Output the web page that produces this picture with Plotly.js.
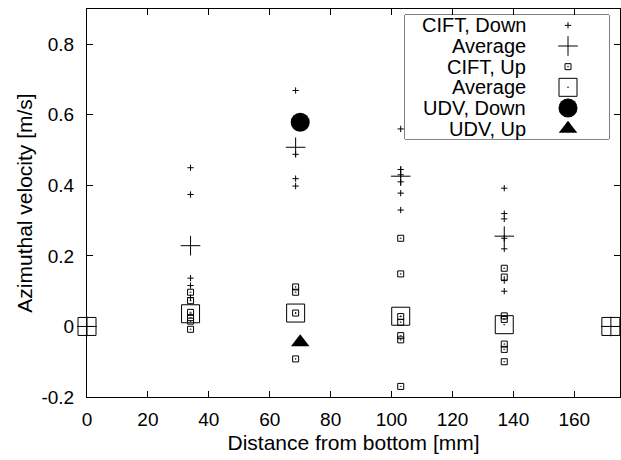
<!DOCTYPE html>
<html><head><meta charset="utf-8">
<script src="https://cdn.plot.ly/plotly-3.0.1.min.js"></script>
<style>body{margin:0;background:#fff}#chart{width:621px;height:460px}</style>
</head><body><div id="chart"></div>
<script>
// ---- data ----
const ciftDownX = [34,34,34,34,34, 68.5,68.5,68.5,68.5, 103,103,103,103,103,103, 137,137,137,137,137,137,137];
const ciftDownY = [0.450,0.374,0.137,0.116,0.082, 0.669,0.488,0.419,0.398, 0.560,0.445,0.430,0.410,0.378,0.330, 0.392,0.320,0.305,0.250,0.220,0.130,0.100];
const avgDownX = [0, 34, 68.5, 103, 137, 172];
const avgDownY = [0, 0.229, 0.508, 0.426, 0.256, 0];
const ciftUpX = [34,34,34,34,34,34, 68.5,68.5,68.5,68.5, 103,103,103,103,103,103,103, 137,137,137,137,137,137,137];
const ciftUpY = [0.097,0.073,0.040,0.025,0.015,-0.008, 0.112,0.097,0.038,-0.092, 0.250,0.149,0.028,0.012,-0.026,-0.038,-0.170, 0.165,0.140,0.030,0.020,-0.050,-0.065,-0.100];
const avgUpX = [0, 34, 68.5, 103, 137, 172];
const avgUpY = [0, 0.036, 0.038, 0.029, 0.005, 0];
const udvDownX = [70];
const udvDownY = [0.579];
const udvUpX = [70];
const udvUpY = [-0.045];
const legendLabels = ["CIFT, Down", "Average", "CIFT, Up", "Average", "UDV, Down", "UDV, Up"];
const xTickVals = [0, 20, 40, 60, 80, 100, 120, 140, 160];
const xTickText = ["0", "20", "40", "60", "80", "100", "120", "140", "160"];
const yTickVals = [-0.2, 0, 0.2, 0.4, 0.6, 0.8];
const yTickText = ["-0.2", "0", "0.2", "0.4", "0.6", "0.8"];

// ---- styles ----
const FONT = "Liberation Sans, Arial, Helvetica, sans-serif";
const styles = [
  {symbol: "cross-thin", size: 4.5, line: {color: "#000", width: 1}, color: "#000"},
  {symbol: "cross-thin", size: 14, line: {color: "#000", width: 1}, color: "#000"},
  {symbol: "square-open-dot", size: 6, line: {color: "#000", width: 1}, color: "#000"},
  {symbol: "square-open-dot", size: 18, line: {color: "#000", width: 1}, color: "#000"},
  {symbol: "circle", size: 19, line: {color: "#000", width: 0}, color: "#000"},
  {symbol: "triangle-up", size: 16, line: {color: "#000", width: 0}, color: "#000"}
];
const series = [
  [ciftDownX, ciftDownY], [avgDownX, avgDownY], [ciftUpX, ciftUpY],
  [avgUpX, avgUpY], [udvDownX, udvDownY], [udvUpX, udvUpY]
];
const drawOrder = [3, 2, 1, 0, 4, 5];

const traces = [];
drawOrder.forEach(i => {
  traces.push({
    type: "scatter", mode: "markers", x: series[i][0], y: series[i][1],
    marker: styles[i], cliponaxis: false, showlegend: false, hoverinfo: "skip",
    xaxis: "x", yaxis: "y", name: legendLabels[i]
  });
});
// legend keys (in a dedicated key axis)
legendLabels.forEach((lab, i) => {
  traces.push({
    type: "scatter", mode: "markers", x: [0.799], y: [i],
    marker: styles[i], cliponaxis: false, showlegend: false, hoverinfo: "skip",
    xaxis: "x2", yaxis: "y2", name: lab
  });
});

const annotations = legendLabels.map((lab, i) => ({
  text: lab, xref: "x2", yref: "y2", x: 0.603, y: i,
  xanchor: "right", yanchor: "middle", showarrow: false,
  font: {family: FONT, size: 20, color: "#000"}
}));

const layout = {
  width: 621, height: 460,
  margin: {l: 87, r: 1, t: 9, b: 63, pad: 0},
  paper_bgcolor: "#fff", plot_bgcolor: "#fff",
  showlegend: false,
  font: {family: FONT, size: 19, color: "#000"},
  xaxis: {
    range: [0, 175], tickvals: xTickVals, ticktext: xTickText,
    ticks: "inside", ticklen: 6, tickcolor: "#000", tickwidth: 1,
    showline: true, linecolor: "#000", linewidth: 1, mirror: "ticks",
    showgrid: false, zeroline: false, ticklabelstandoff: 5,
    tickfont: {family: FONT, size: 19},
    title: {text: "Distance from bottom [mm]", font: {family: FONT, size: 21}, standoff: 6}
  },
  yaxis: {
    range: [-0.2, 0.9], tickvals: yTickVals, ticktext: yTickText,
    ticks: "inside", ticklen: 6, tickcolor: "#000", tickwidth: 1,
    showline: true, linecolor: "#000", linewidth: 1, mirror: "ticks",
    showgrid: false, zeroline: false, ticklabelstandoff: 8,
    tickfont: {family: FONT, size: 19},
    title: {text: "Azimuthal velocity [m/s]", font: {family: FONT, size: 21}, standoff: 3}
  },
  xaxis2: {domain: [0.5966, 0.9794], range: [0, 1], visible: false, anchor: "y2", fixedrange: true},
  yaxis2: {domain: [0.665, 0.9845], range: [5.5, -0.5], visible: false, anchor: "x2", fixedrange: true},
  shapes: [{
    type: "rect", xref: "x2 domain", yref: "y2 domain", x0: 0, x1: 1, y0: 0, y1: 1,
    line: {color: "#000", width: 1}, fillcolor: "rgba(255,255,255,0)", layer: "below"
  }],
  annotations: annotations
};

Plotly.newPlot("chart", traces, layout, {staticPlot: true, displayModeBar: false});
</script>
</body></html>
